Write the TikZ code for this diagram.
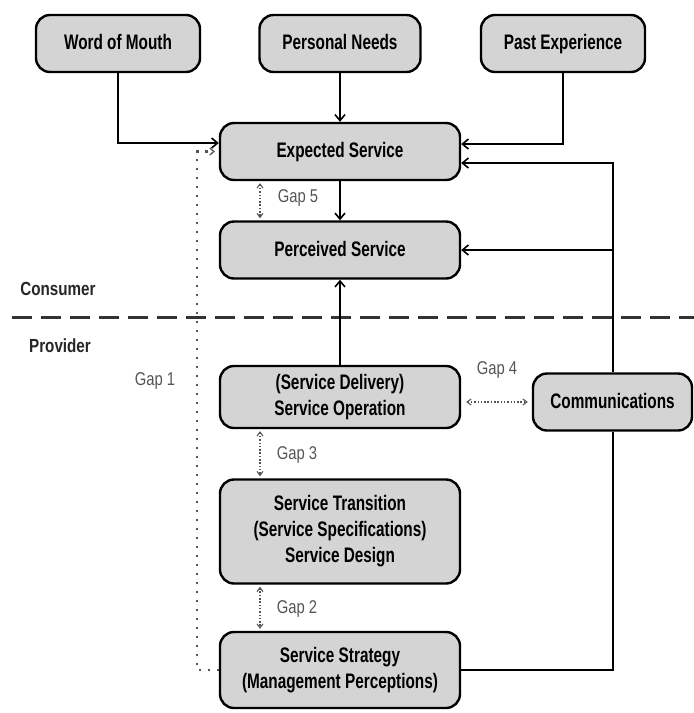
\documentclass[tikz,border=0pt]{standalone}
\usepackage{fontspec}
\setmainfont{Liberation Sans}
\newfontfamily\boxfont[FakeStretch=0.73]{Liberation Sans Bold}
\newfontfamily\sidefont[FakeStretch=0.8]{Liberation Sans Bold}
\newfontfamily\gapfont[FakeStretch=0.8]{Liberation Sans}
\usetikzlibrary{arrows.meta}
\begin{document}
\begin{tikzpicture}[x=1pt,y=-1pt,
  box/.style={draw=black, line width=2.4pt, fill=boxgray, rounded corners=14pt,
    align=center, font=\boxfont\fontsize{21}{26}\selectfont, inner sep=0pt},
  oneline/.style={text height=16.5pt, text depth=4pt},
  conn/.style={line width=2pt, draw=black, -{Straight Barb[length=6pt,width=10pt,line width=1.6pt]}},
  plain/.style={line width=2pt, draw=black},
  gapline/.style={draw=gapgray, line width=2.2pt, dash pattern=on 2.2pt off 6.8pt},
  gaparrow/.style={draw=gapgray, line width=1.5pt, dash pattern=on 1.5pt off 1.8pt,
    {Straight Barb[length=4pt,width=6pt,line width=1.1pt]}-{Straight Barb[length=4pt,width=6pt,line width=1.1pt]}},
  gaplabel/.style={text=gapgray, font=\gapfont\fontsize{18.5}{20}\selectfont, inner sep=0pt},
  side/.style={text=black!85, font=\sidefont\fontsize{19}{20}\selectfont, inner sep=0pt}
]
\definecolor{boxgray}{HTML}{D4D4D4}
\definecolor{gapgray}{HTML}{555555}
\useasboundingbox (0,0) rectangle (694,713);

\node[box, oneline, minimum width=164pt, minimum height=57pt] (wom) at (118,43.5) {Word of Mouth};
\node[box, oneline, minimum width=161pt, minimum height=57pt] (pn) at (340,43.5) {Personal Needs};
\node[box, oneline, minimum width=164pt, minimum height=57pt] (past) at (563,43.5) {Past Experience};
\node[box, oneline, minimum width=240pt, minimum height=57pt] (exp) at (340,151.5) {Expected Service};
\node[box, oneline, minimum width=240pt, minimum height=57pt] (perc) at (340,250) {Perceived Service};
\node[box, minimum width=240pt, minimum height=62pt] (op) at (340,397) {(Service Delivery)\\Service Operation};
\node[box, oneline, minimum width=159pt, minimum height=57pt] (comm) at (612.5,402) {Communications};
\node[box, minimum width=240pt, minimum height=104pt] (trans) at (340,531.5) {Service Transition\\(Service Specifications)\\Service Design};
\node[box, minimum width=240pt, minimum height=76pt] (strat) at (340,670) {Service Strategy\\(Management Perceptions)};

\node[side] (cons) at (58,289) {Consumer};
\node[side] (prov) at (60,346) {Provider};
\coordinate (dl) at (12,317);
\coordinate (dr) at (694,317);
\draw[line width=3pt, draw=black!80, dash pattern=on 20pt off 9pt] (dl) -- (dr);

\node[gaplabel] (g1) at (155,381) {Gap 1};
\node[gaplabel] (g2) at (297,609) {Gap 2};
\node[gaplabel] (g3) at (297,455) {Gap 3};
\node[gaplabel] (g4) at (497,370) {Gap 4};
\node[gaplabel] (g5) at (298,198) {Gap 5};

% solid connectors
\draw[conn] (wom.south) |- ([yshift=8.5pt]exp.west);
\draw[conn] (pn.south) -- (exp.north);
\draw[conn] (past.south) |- ([yshift=7.5pt]exp.east);
\draw[conn] (comm.north) |- ([yshift=-11.5pt]exp.east);
\draw[conn] (comm.north) |- (perc.east);
\draw[conn] (exp.south) -- (perc.north);
\draw[conn] (op.north) -- (perc.south);
\draw[plain] (strat.east) -| (comm.south);

% gap 1 dotted line
\draw[gapline, -{Straight Barb[length=4pt,width=7pt,line width=1.3pt]}] (strat.west) -- ++(-22,0) |- ([xshift=-4pt]exp.west);

% gap arrows
\draw[gaparrow] ([xshift=-80pt,yshift=-2pt]exp.south) -- ([xshift=-80pt,yshift=2pt]perc.north);
\draw[gaparrow] ([xshift=-80pt,yshift=-2pt]op.south) -- ([xshift=-80pt,yshift=2pt]trans.north);
\draw[gaparrow] ([xshift=-80pt,yshift=-2pt]trans.south) -- ([xshift=-80pt,yshift=2pt]strat.north);
\draw[gaparrow] ([xshift=5pt]op.east |- comm.west) -- ([xshift=-4pt]comm.west);
\end{tikzpicture}
\end{document}
